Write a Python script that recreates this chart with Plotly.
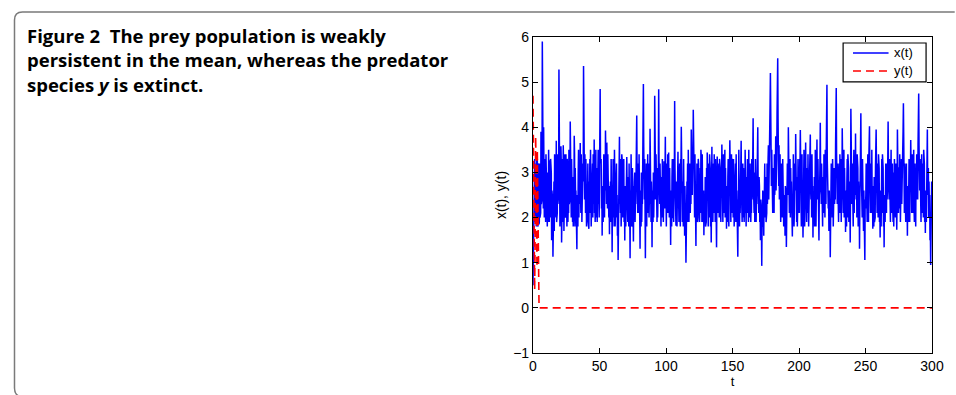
import plotly.graph_objects as go

# ---------------- data ----------------
# x(t) read at t = 0, 0.5, 1.0, ..., 300
x_on_half = [
    0.5, 1.9, 2.6, 2.2, 3.1, 1.8, 2.7, 2.0, 3.2, 1.85, 3.2, 2.3, 3.9, 2.6, 5.9, 2.4, 4.0, 2.0, 2.8, 1.9,
    2.7, 2.1, 3.0, 1.9, 2.6, 3.27, 2.0, 2.4, 1.5, 1.9, 1.13, 2.2, 1.7, 2.8, 2.1, 3.7, 2.5, 3.4, 2.8, 5.28,
    2.9, 2.2, 3.58, 1.45, 2.5, 1.9, 3.0, 2.2, 3.4, 2.0, 2.7, 1.8, 3.1, 2.3, 3.5, 2.6, 4.13, 2.0, 3.3, 2.4,
    2.9, 2.2, 3.81, 1.8, 2.5, 1.6, 1.3, 2.3, 3.0, 2.0, 2.8, 3.65, 2.1, 2.9, 2.3, 3.2, 5.36, 2.8, 3.4, 2.1,
    2.9, 2.2, 3.1, 1.9, 1.75, 2.6, 2.1, 2.9, 2.3, 3.2, 2.0, 2.7, 3.73, 2.4, 2.9, 2.0, 3.1, 2.4, 3.5, 2.6,
    3.3, 4.85, 2.7, 2.2, 1.6, 2.4, 2.9, 2.1, 3.2, 3.93, 2.6, 3.66, 2.2, 2.8, 2.0, 1.63, 2.4, 1.9, 2.7, 1.23,
    2.0, 2.6, 1.8, 2.9, 2.3, 3.1, 2.0, 1.6, 1.06, 2.4, 3.79, 2.5, 3.3, 2.1, 2.9, 2.0, 2.6, 1.9, 1.49, 2.3,
    2.6, 3.34, 2.2, 2.9, 1.8, 2.4, 1.1, 2.0, 2.7, 1.9, 2.5, 1.47, 2.2, 3.0, 2.4, 3.4, 4.26, 2.6, 3.2, 2.1,
    2.5, 1.31, 2.2, 3.0, 2.4, 3.6, 4.96, 2.9, 3.3, 1.1, 2.3, 1.8, 2.7, 2.1, 3.2, 2.5, 3.97, 2.3, 2.8, 1.34,
    2.2, 3.0, 2.5, 4.7, 2.8, 3.4, 2.6, 3.1, 2.56, 4.84, 2.7, 3.2, 2.3, 2.9, 2.0, 2.6, 1.9, 3.25, 2.2, 3.79,
    2.5, 3.0, 2.1, 2.7, 3.44, 2.0, 2.4, 1.39, 2.2, 2.9, 2.0, 3.3, 2.5, 4.58, 2.6, 1.82, 2.8, 2.3, 3.46, 2.4,
    3.0, 2.2, 3.3, 4.01, 2.3, 2.7, 1.8, 2.3, 1.6, 2.1, 1.0, 2.0, 2.6, 1.9, 2.8, 2.3, 3.2, 2.6, 3.95, 2.8,
    3.4, 4.39, 2.5, 2.0, 2.4, 1.37, 2.1, 2.7, 2.0, 3.2, 2.3, 2.8, 2.1, 2.6, 1.9, 2.5, 2.0, 1.61, 2.4, 2.9,
    2.3, 3.1, 3.44, 2.2, 2.8, 2.0, 2.6, 1.8, 1.45, 3.57, 2.4, 2.9, 2.1, 2.7, 1.9, 2.5, 1.34, 3.35, 2.3, 2.9,
    2.0, 2.6, 2.2, 3.0, 3.62, 2.4, 2.9, 2.1, 2.7, 2.0, 2.5, 1.75, 2.4, 2.9, 2.2, 3.2, 3.71, 2.5, 2.9, 2.1,
    2.6, 2.0, 2.8, 2.2, 3.0, 1.9, 2.4, 1.6, 1.13, 2.2, 2.8, 2.3, 3.1, 3.7, 2.4, 2.9, 2.0, 2.7, 2.3, 3.5,
    2.5, 2.9, 2.1, 2.6, 1.9, 2.4, 2.0, 2.8, 2.3, 3.3, 2.6, 4.2, 2.5, 3.0, 2.2, 2.8, 2.4, 3.4, 4.0, 2.5,
    2.9, 1.9, 1.5, 2.3, 0.93, 1.8, 2.4, 1.6, 2.6, 2.0, 2.9, 2.3, 3.2, 2.6, 3.6, 2.8, 3.9, 5.2, 3.0, 3.5,
    2.6, 3.1, 2.4, 3.4, 2.7, 3.8, 2.9, 4.3, 5.53, 3.2, 3.6, 2.5, 3.0, 2.2, 2.8, 2.0, 2.5, 1.8, 2.3, 1.6,
    2.1, 1.35, 2.4, 3.0, 4.0, 2.6, 2.9, 2.0, 2.5, 1.8, 1.58, 2.3, 2.8, 2.1, 3.1, 3.85, 2.5, 2.9, 2.2, 3.0,
    2.6, 3.3, 3.94, 2.3, 2.8, 2.0, 1.56, 2.4, 2.9, 2.2, 3.66, 2.5, 3.0, 2.1, 2.7, 2.3, 3.2, 3.84, 2.4, 2.0,
    2.5, 1.56, 2.3, 2.9, 2.1, 2.7, 2.2, 3.73, 2.4, 2.0, 1.49, 2.6, 4.1, 2.7, 3.2, 2.3, 2.9, 2.1, 2.6, 2.0,
    2.8, 3.5, 4.94, 2.6, 2.2, 1.7, 2.0, 1.12, 2.1, 2.7, 2.0, 2.9, 2.3, 3.1, 2.6, 3.6, 4.87, 2.7, 3.2, 2.4,
    2.9, 2.1, 2.7, 3.3, 2.5, 3.98, 2.4, 2.9, 2.0, 2.5, 1.68, 2.2, 2.8, 2.0, 2.6, 1.9, 2.3, 1.45, 4.41, 2.6,
    3.1, 2.3, 2.9, 2.1, 3.0, 3.86, 2.4, 2.0, 2.6, 1.8, 2.3, 1.31, 2.8, 4.31, 2.5, 2.0, 2.4, 1.7, 2.1, 1.06,
    2.2, 3.2, 2.4, 2.9, 2.2, 3.3, 4.02, 2.5, 2.9, 2.1, 2.5, 1.75, 2.4, 2.9, 2.2, 3.1, 3.95, 2.5, 2.8, 2.0,
    2.5, 1.9, 1.56, 2.3, 2.8, 2.1, 2.6, 1.8, 1.34, 2.2, 2.9, 2.3, 3.2, 2.6, 4.13, 2.7, 3.3, 2.4, 2.9, 2.1,
    2.7, 2.2, 3.0, 2.4, 2.8, 2.0, 2.4, 1.73, 3.95, 2.6, 3.1, 2.2, 2.8, 2.3, 3.3, 2.6, 3.5, 4.53, 2.8, 3.2,
    2.3, 2.8, 2.0, 1.6, 2.4, 2.9, 2.2, 3.1, 3.72, 2.5, 2.9, 2.1, 2.7, 2.2, 3.0, 2.4, 2.9, 3.4, 2.6, 3.6,
    4.75, 2.9, 3.3, 2.4, 2.9, 2.1, 2.6, 2.0, 2.5, 1.9, 1.66, 2.4, 3.0, 3.95, 2.5, 2.0, 2.3, 1.5, 0.95, 1.9,
    2.4,
]
# x(t) read at t = 0.25, 0.75, ..., 299.75
x_on_quarter = [
    1.5, 3.1, 3.3, 1.9, 3.2, 3.4, 3.3, 1.8, 3.1, 1.9, 2.0, 2.1, 2.3, 2.4, 2.5, 2.2, 2.4, 3.3, 3.0, 3.4,
    3.2, 1.8, 2.9, 3.5, 1.9, 2.1, 3.3, 3.0, 2.6, 2.4, 2.6, 2.8, 3.4, 3.3, 2.0, 1.9, 2.1, 2.3, 2.5, 2.4,
    1.8, 1.9, 3.2, 3.0, 3.3, 3.6, 1.7, 2.0, 2.1, 3.4, 3.1, 3.3, 1.9, 2.1, 2.3, 2.4, 2.6, 2.0, 2.1, 1.9,
    1.8, 2.3, 3.4, 3.1, 2.6, 2.2, 2.5, 1.8, 3.5, 3.2, 2.3, 2.5, 3.4, 1.9, 2.0, 2.8, 3.0, 2.4, 2.3, 3.3,
    1.8, 1.9, 3.2, 2.6, 2.8, 3.3, 3.5, 1.8, 1.9, 3.2, 3.4, 2.3, 2.1, 1.9, 3.5, 3.1, 1.9, 2.1, 2.3, 2.0,
    2.8, 3.2, 3.3, 2.6, 2.7, 1.9, 3.4, 2.0, 2.6, 2.4, 2.3, 2.6, 3.4, 3.2, 2.5, 2.7, 2.8, 3.3, 2.4, 2.5,
    3.3, 3.1, 3.5, 1.8, 1.9, 3.2, 2.5, 2.0, 2.6, 2.5, 2.3, 2.1, 1.8, 3.4, 3.2, 3.1, 3.3, 2.5, 2.7, 1.8,
    2.0, 2.7, 1.9, 2.8, 3.2, 2.1, 2.6, 3.4, 1.8, 3.1, 2.6, 2.7, 2.8, 1.9, 2.3, 2.6, 3.0, 2.1, 2.4, 3.4,
    2.8, 2.6, 1.8, 1.9, 2.3, 3.9, 3.6, 2.4, 2.5, 2.4, 3.2, 3.1, 3.4, 3.2, 2.0, 2.3, 3.0, 1.9, 2.5, 2.6,
    1.9, 2.0, 2.4, 3.2, 2.4, 2.3, 1.9, 2.0, 3.1, 3.3, 2.3, 1.9, 1.8, 2.1, 3.3, 3.1, 2.4, 2.4, 2.6, 2.6,
    1.8, 3.2, 3.4, 2.1, 2.4, 3.1, 2.3, 2.6, 1.8, 3.3, 2.0, 1.9, 2.7, 3.1, 2.3, 2.6, 1.8, 2.1, 2.3, 1.9,
    3.2, 1.8, 3.1, 2.7, 1.9, 2.8, 3.3, 2.6, 2.7, 1.9, 2.2, 2.8, 3.2, 3.5, 1.9, 2.0, 2.1, 2.3, 2.6, 2.5,
    3.1, 3.1, 3.2, 3.4, 2.5, 2.5, 3.2, 1.9, 3.3, 2.1, 1.9, 3.1, 3.5, 3.2, 3.4, 1.9, 2.6, 2.5, 1.9, 1.8,
    1.9, 2.5, 2.6, 1.8, 3.2, 3.4, 3.1, 2.4, 2.2, 2.6, 1.9, 3.2, 3.4, 2.8, 3.3, 2.1, 2.4, 2.6, 2.1, 3.2,
    3.3, 3.1, 1.9, 2.6, 2.7, 1.9, 3.4, 3.2, 3.5, 3.1, 2.6, 2.7, 1.9, 3.3, 1.8, 3.1, 2.6, 1.9, 3.4, 3.3,
    3.1, 3.3, 1.8, 1.9, 3.2, 3.4, 2.6, 2.1, 2.4, 3.5, 1.8, 2.1, 2.7, 2.6, 1.9, 3.2, 3.1, 1.9, 2.1, 2.4,
    1.8, 2.8, 3.3, 3.1, 3.5, 2.8, 3.2, 1.9, 2.1, 2.4, 3.4, 2.7, 2.1, 1.9, 3.3, 1.9, 2.3, 3.2, 2.8, 2.1,
    2.7, 2.3, 2.4, 1.8, 2.0, 2.6, 2.2, 2.5, 3.2, 2.8, 1.9, 2.1, 2.3, 3.3, 2.4, 3.1, 4.5, 3.4, 2.7, 2.8,
    2.1, 2.6, 2.1, 2.5, 3.1, 2.6, 3.3, 4.9, 4.2, 2.7, 2.4, 3.4, 1.9, 3.2, 2.0, 3.3, 2.6, 2.5, 2.4, 2.7,
    2.5, 2.3, 3.2, 2.5, 3.1, 2.1, 3.3, 3.1, 2.8, 2.3, 2.4, 3.4, 1.8, 3.2, 2.6, 3.1, 1.9, 1.8, 3.3, 2.1,
    2.1, 3.2, 2.6, 1.8, 3.4, 2.4, 2.5, 3.5, 1.8, 2.7, 2.7, 1.9, 3.1, 3.4, 1.8, 1.9, 3.3, 2.6, 3.2, 3.4,
    2.7, 2.4, 1.9, 1.8, 3.5, 1.8, 2.5, 2.6, 3.3, 2.4, 2.5, 3.2, 3.0, 2.3, 2.1, 1.8, 2.1, 3.4, 3.1, 3.5,
    2.3, 4.0, 3.3, 3.1, 2.5, 2.6, 2.4, 2.2, 3.2, 3.1, 3.3, 1.8, 2.1, 2.3, 2.4, 4.3, 3.4, 2.3, 2.3, 1.9,
    3.2, 3.4, 2.1, 1.9, 2.4, 2.8, 2.1, 3.5, 3.1, 2.6, 2.6, 1.8, 3.3, 3.4, 3.1, 2.8, 2.5, 2.6, 3.0, 2.3,
    3.2, 1.8, 3.5, 3.1, 2.5, 2.7, 3.3, 3.4, 3.1, 2.8, 2.5, 2.4, 3.2, 3.2, 3.1, 3.3, 2.7, 2.6, 2.2, 2.4,
    2.5, 2.6, 1.9, 3.4, 1.9, 3.6, 3.0, 2.1, 3.2, 3.5, 2.6, 2.7, 1.8, 1.9, 2.0, 3.3, 3.1, 2.1, 3.2, 3.4,
    3.1, 2.4, 2.6, 1.8, 3.3, 3.4, 3.1, 2.3, 2.5, 1.9, 3.2, 2.1, 2.4, 3.3, 3.2, 2.4, 2.6, 1.9, 3.5, 3.1,
    3.2, 1.9, 1.8, 3.3, 3.1, 3.2, 2.6, 2.4, 3.3, 2.1, 3.1, 3.4, 1.9, 2.1, 2.3, 3.2, 3.9, 3.3, 2.1, 2.5,
    1.9, 3.2, 2.5, 2.7, 1.9, 3.3, 1.9, 2.6, 2.8, 2.1, 3.4, 3.1, 3.5, 1.9, 3.2, 1.8, 2.4, 2.8, 2.4, 3.9,
    3.6, 2.6, 2.1, 1.9, 3.4, 3.2, 3.1, 3.5, 3.2, 2.5, 2.6, 1.9, 2.5, 2.8, 3.1, 2.8, 2.5, 1.9, 1.4, 2.8,
]

# combine both readings in time order
t_x, x_vals = [], []
for i in range(600):
    t_x += [i * 0.5, i * 0.5 + 0.25]
    x_vals += [x_on_half[i], x_on_quarter[i]]
t_x.append(300.0)
x_vals.append(x_on_half[600])

t_y = [0, 0.25, 0.5, 0.75, 1.0, 1.25, 1.5, 1.75, 2.0, 2.25, 2.5, 2.75, 3.0, 3.25, 3.5,
       3.75, 4.0, 4.25, 4.5, 4.75, 5.0, 300]
y_vals = [4.7, 3.9, 2.6, 1.5, 0.6, 0.4, 1.2, 2.8, 3.8, 3.2, 2.0, 1.0, 0.9, 3.5, 2.4,
          1.0, 0.5, 0.3, 0.12, 0.03, 0.0, 0.0]

series_names = ["x(t)", "y(t)"]
x_ticks = [0, 50, 100, 150, 200, 250, 300]
y_ticks = [-1, 0, 1, 2, 3, 4, 5, 6]

# ---------------- layout helpers ----------------
W, H = 956, 395
PL, PR, PT, PB = 533, 937, 37, 354
FONT = "Liberation Sans, Arial"
BLUE, RED = "#0000ff", "#ff0000"


def px_x(px):
    return (px - PL) / (PR - PL)


def px_y(py):
    return (PB - py) / (PB - PT)


fig = go.Figure()
fig.add_trace(go.Scatter(x=t_x, y=x_vals, mode="lines", name=series_names[0],
                         line=dict(color=BLUE, width=1.5), showlegend=False))
fig.add_trace(go.Scatter(x=t_y, y=y_vals, mode="lines", name=series_names[1],
                         line=dict(color=RED, width=1.6, dash="8px,5px"), showlegend=False))

axis_common = dict(showgrid=False, zeroline=False, showline=True, mirror="ticks",
                   linecolor="black", linewidth=1.2, ticks="inside", ticklen=5,
                   tickcolor="black", tickfont=dict(family=FONT, size=14, color="black"))

fig.update_xaxes(range=[0, 300], tickvals=x_ticks, **axis_common,
                 title=dict(text="t", font=dict(family=FONT, size=13, color="black"),
                            standoff=0))
fig.update_yaxes(range=[-1, 6], tickvals=y_ticks, **axis_common,
                 title=dict(text="x(t), y(t)", font=dict(family=FONT, size=14, color="black"),
                            standoff=3))

# frame around figure (rounded corners, partly outside the view)
pts = [(960, 12), (16, 12), (8, 12), (8, 20), (8, 389), (8, 398), (17, 398), (960, 398)]
p = [(px_x(a), px_y(b)) for a, b in pts]
path = (f"M {p[0][0]},{p[0][1]} L {p[1][0]},{p[1][1]} Q {p[2][0]},{p[2][1]} {p[3][0]},{p[3][1]} "
        f"L {p[4][0]},{p[4][1]} Q {p[5][0]},{p[5][1]} {p[6][0]},{p[6][1]} L {p[7][0]},{p[7][1]}")
fig.add_shape(type="path", path=path, xref="paper", yref="paper",
              line=dict(color="#7a7a7a", width=1.5))

# legend box (drawn to match the original's compact MATLAB legend)
fig.add_shape(type="rect", xref="paper", yref="paper",
              x0=px_x(847), x1=px_x(931), y0=px_y(82), y1=px_y(43),
              line=dict(color="black", width=1.2), fillcolor="white", layer="above")
leg_rows = [(53, BLUE, "solid"), (71, RED, "8px,5px")]
for (cy, col, dash), name in zip(leg_rows, series_names):
    fig.add_shape(type="line", xref="paper", yref="paper",
                  x0=px_x(857), x1=px_x(893), y0=px_y(cy), y1=px_y(cy),
                  line=dict(color=col, width=1.5, dash=dash), layer="above")
    fig.add_annotation(text=name, xref="paper", yref="paper", x=px_x(897), y=px_y(cy),
                       xanchor="left", yanchor="middle", showarrow=False,
                       font=dict(family=FONT, size=13, color="black"))

title_lines = [
    "<b>Figure 2  The prey population is weakly</b>",
    "<b>persistent in the mean, whereas the predator</b>",
    "<b>species <i>y</i> is extinct.</b>",
]
centers = [35, 60, 85]
for txt, cy in zip(title_lines, centers):
    fig.add_annotation(text=txt, xref="paper", yref="paper", x=px_x(19), y=px_y(cy),
                       xanchor="left", yanchor="middle", showarrow=False,
                       font=dict(family="Open Sans", size=18.5, color="black"))

fig.update_layout(
    width=W, height=H,
    margin=dict(l=PL, r=W - PR, t=PT, b=H - PB),
    plot_bgcolor="white", paper_bgcolor="white",
    showlegend=False,
)

fig.write_html("out.html")
